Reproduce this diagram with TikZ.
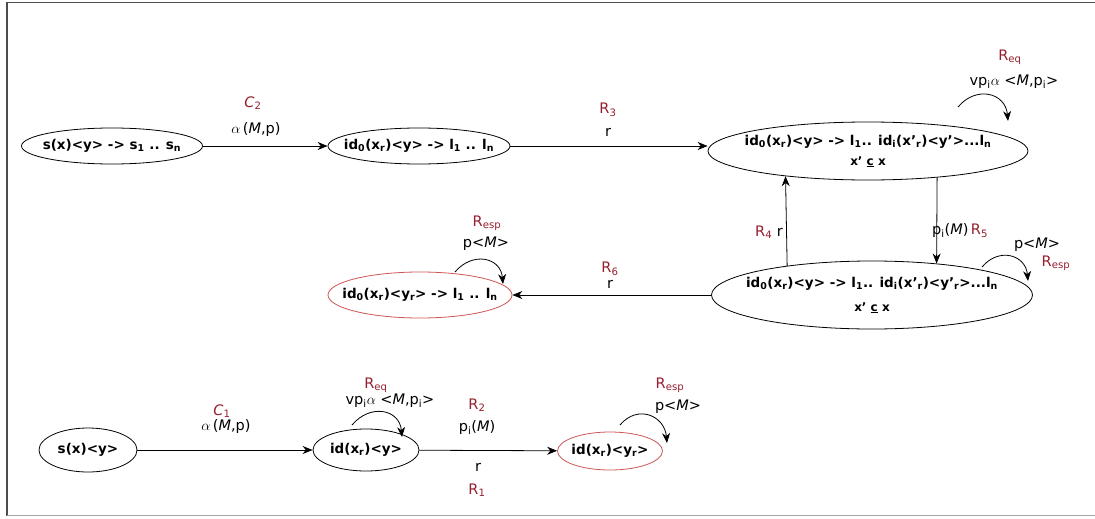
\documentclass[tikz,border=0pt]{standalone}
\usepackage{fontspec}
\setmainfont{DejaVu Sans}
\usetikzlibrary{shapes.geometric,arrows.meta}

\definecolor{rulered}{RGB}{150,30,45}
\definecolor{redline}{RGB}{205,85,85}
\newcommand{\ts}[1]{\textsubscript{#1}}

\begin{document}
\begin{tikzpicture}[x=1pt,y=-1pt,
    state/.style={ellipse, draw, line width=0.8pt, inner xsep=-30pt, inner ysep=0pt,
      align=center, font=\bfseries\fontsize{13.5}{15}\selectfont},
    redstate/.style={state, draw=redline},
    lbl/.style={inner sep=0pt, font=\fontsize{14.5}{16}\selectfont},
    rule/.style={lbl, text=rulered},
    arr/.style={-{Stealth[length=10pt,width=8pt]}, line width=0.8pt}]
  \useasboundingbox (0,0) rectangle (1095,519);

  % frame
  \draw[black!70, line width=1.5pt] (7,516) -- (7,2.5) -- (1095,2.5);
  \draw[black!35, line width=1pt] (7,515.5) -- (1095,515.5);

  % states of the upper chain
  \node[state, minimum width=181pt, minimum height=36pt] (A) at (112,146)
    {s(x)<y> -> s\ts{1} .. s\ts{n}};
  \node[state, minimum width=182pt, minimum height=36pt] (B) at (419,146)
    {id\ts{0}(x\ts{r})<y> -> l\ts{1} .. l\ts{n}};
  \node[state, minimum width=320pt, minimum height=58pt] (C) at (868,151)
    {id\ts{0}(x\ts{r})<y> -> l\ts{1}.. id\ts{i}(x'\ts{r})<y'>...l\ts{n}\\[5pt]
     {\fontsize{12}{13}\selectfont x' \underline{c} x}};
  \node[state, minimum width=321pt, minimum height=68pt] (D) at (872,295)
    {id\ts{0}(x\ts{r})<y> -> l\ts{1}.. id\ts{i}(x'\ts{r})<y'\ts{r}>...l\ts{n}\\[9pt]
     {\fontsize{12}{13}\selectfont x' \underline{c} x}};
  \node[redstate, minimum width=184pt, minimum height=46pt] (E) at (420,295)
    {id\ts{0}(x\ts{r})<y\ts{r}> -> l\ts{1} .. l\ts{n}};

  % states of the lower chain
  \node[state, minimum width=98pt, minimum height=44pt] (F) at (88,450) {s(x)<y>};
  \node[state, minimum width=106pt, minimum height=42pt] (G) at (366,450) {id(x\ts{r})<y>};
  \node[redstate, minimum width=105pt, minimum height=38pt] (H) at (610,451) {id(x\ts{r})<y\ts{r}>};

  % transitions
  \draw[arr] (A) -- (B);
  \draw[arr] (B) -- (B -| C.west);
  \draw[arr] (C.-21) -- (D.26);
  \draw[arr] (D.161) -- (C.197);
  \draw[arr] (D) -- (E);
  \draw[arr] (F) -- (G);
  \draw[arr] (G) -- (H);

  % self loops
  \draw[arr] ([shift={(90,-44)}]C.center) to[out=50,in=95,looseness=1.4] ([shift={(140,-30)}]C.center);
  \draw[arr] ([shift={(110,-28)}]D.center) to[out=50,in=95,looseness=1.4] ([shift={(156,-14)}]D.center);
  \draw[arr] ([shift={(35,-23)}]E.center) to[out=50,in=95,looseness=1.4] ([shift={(83,-11)}]E.center);
  \draw[arr] ([shift={(-14,-25)}]G.center) to[out=50,in=95,looseness=1.4] ([shift={(36,-13)}]G.center);
  \draw[arr] ([shift={(10,-26)}]H.center) to[out=50,in=95,looseness=1.4] ([shift={(57,-8)}]H.center);

  % labels
  \node[rule] (c2) at (253,103) {\textit{C}\ts{2}};
  \node[lbl] (a2) at (256,130) {$\alpha$\,(\textit{M},p)};
  \node[rule] (r3) at (608,110) {R\ts{3}};
  \node[lbl] (t3) at (608,132) {r};
  \node[rule] (req1) at (1010,57) {R\ts{eq}};
  \node[lbl] (vp1) at (1014,82) {vp\ts{i}$\alpha$ <\textit{M},p\ts{i}>};
  \node[lbl, anchor=west] (p5) at (932,231) {p\ts{i}(\textit{M})\,\textcolor{rulered}{R\ts{5}}};
  \node[lbl, anchor=east] (r4) at (783,232) {\textcolor{rulered}{R\ts{4}} r};
  \node[lbl] (pm1) at (1037,245) {p<\textit{M}>};
  \node[rule] (esp1) at (1056,263) {R\ts{esp}};
  \node[rule] (r6) at (610,269) {R\ts{6}};
  \node[lbl] (t6) at (610,284) {r};
  \node[rule] (esp2) at (487,223) {R\ts{esp}};
  \node[lbl] (pm2) at (486,244) {p<\textit{M}>};
  \node[rule] (c1) at (222,411) {\textit{C}\ts{1}};
  \node[lbl] (a1) at (226,427) {$\alpha$\,(\textit{M},p)};
  \node[rule] (req2) at (376,385) {R\ts{eq}};
  \node[lbl] (vp2) at (390,401) {vp\ts{i}$\alpha$ <\textit{M},p\ts{i}>};
  \node[rule] (r2) at (477,405) {R\ts{2}};
  \node[lbl] (p2) at (477,428) {p\ts{i}(\textit{M})};
  \node[lbl] (t1) at (478,467) {r};
  \node[rule] (r1) at (477,490) {R\ts{1}};
  \node[rule] (esp3) at (670,385) {R\ts{esp}};
  \node[lbl] (pm3) at (678,407) {p<\textit{M}>};
\end{tikzpicture}
\end{document}
